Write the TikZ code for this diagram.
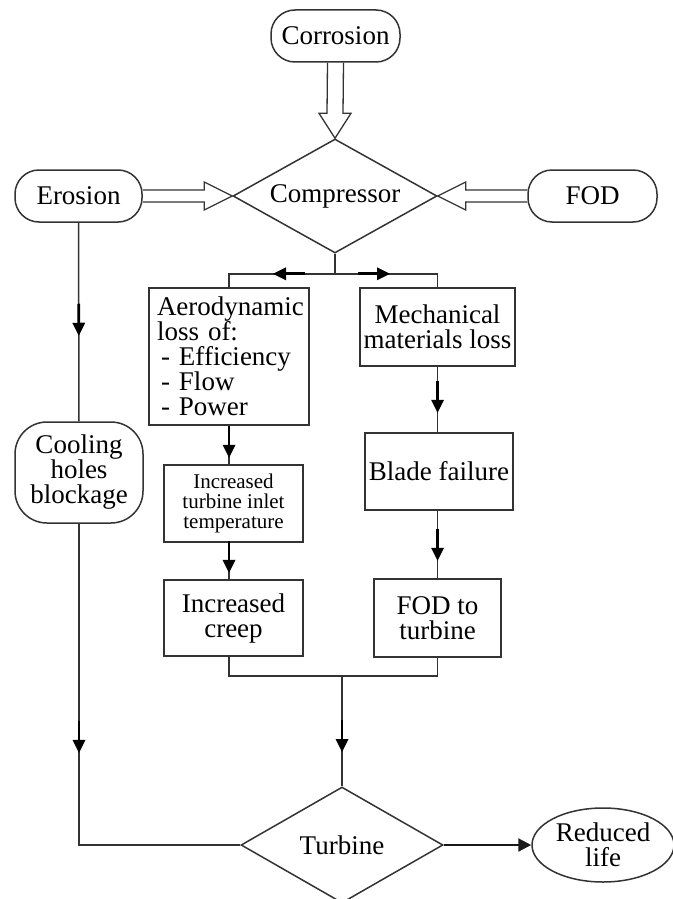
\documentclass[tikz,border=0pt]{standalone}
\usepackage{fontspec}
\setmainfont{Liberation Serif}
\usetikzlibrary{shapes.geometric,arrows.meta,decorations.markings,calc}
\begin{document}
\begin{tikzpicture}[x=1pt,y=-1pt,
  lc/.style={draw=black!80,line width=1.5pt},
  big/.style={font=\fontsize{27}{25}\selectfont},
  small/.style={font=\fontsize{21}{20}\selectfont},
  pill/.style={lc,big,rounded corners=24pt,inner sep=0pt,align=center},
  box/.style={lc,big,rectangle,inner sep=0pt,align=center},
  dia/.style={lc,big,diamond,inner sep=0pt},
  fat/.style={draw=black!80,line width=1.3pt,line join=miter},
  midarr/.style={decoration={markings,mark=at position #1 with {%
      \draw[black,line width=2.8pt] (-32pt,0pt) -- (-10pt,0pt);
      \fill[black] (0pt,0pt) -- (-13pt,6.5pt) -- (-13pt,-6.5pt) -- cycle;}},
    postaction={decorate}}]
\useasboundingbox (0,0) rectangle (672,899);

\node[pill,minimum width=129pt,minimum height=52pt] (corr) at (335.5,36) {Corrosion};
\node[pill,minimum width=127pt,minimum height=52pt] (ero) at (78.5,196) {Erosion};
\node[pill,minimum width=129pt,minimum height=52pt] (fod) at (592.5,196) {FOD};
\node[dia,minimum width=204pt,minimum height=114pt,aspect=1.79] (comp) at (335,196) {Compressor};

\node[box,minimum width=160pt,minimum height=137pt,text width=144pt,align=left] (aero) at (229,356.5)
  {Aerodynamic\\loss of:\\\hspace*{4pt}- Efficiency\\\hspace*{4pt}- Flow\\\hspace*{4pt}- Power};
\node[box,minimum width=155pt,minimum height=78pt] (mech) at (437.5,327) {Mechanical\\materials loss};
\node[box,small,minimum width=139pt,minimum height=77pt] (inlet) at (233.5,503.5) {Increased\\turbine inlet\\temperature};
\node[box,minimum width=148pt,minimum height=77pt] (blade) at (439,471.5) {Blade failure};
\node[box,minimum width=139pt,minimum height=76pt] (creep) at (233.5,618) {Increased\\creep};
\node[box,minimum width=127pt,minimum height=78pt] (fod2) at (437.5,618) {FOD to\\turbine};
\node[pill,rounded corners=32pt,minimum width=128pt,minimum height=101pt] (cool) at (79,472.5) {Cooling\\holes\\blockage};
\node[dia,minimum width=202pt,minimum height=116pt,aspect=1.74] (turb) at (342,845) {Turbine};
\node[lc,big,ellipse,minimum width=142pt,minimum height=74pt,inner sep=0pt,align=center] (life) at (603,845) {Reduced\\life};

% fat arrows
\draw[fat] ($(corr.south)+(-8,0)$) -- ($(comp.north)+(-8,-25)$) -- ($(comp.north)+(-16,-25)$) -- (comp.north)
  -- ($(comp.north)+(16,-25)$) -- ($(comp.north)+(8,-25)$) -- ($(corr.south)+(8,0)$);
\draw[fat] ($(ero.east)+(0,-6)$) -- ($(comp.west)+(-28,-6)$) -- ($(comp.west)+(-28,-14)$) -- (comp.west)
  -- ($(comp.west)+(-28,14)$) -- ($(comp.west)+(-28,6)$) -- ($(ero.east)+(0,6)$);
\draw[fat] ($(fod.west)+(0,-6)$) -- ($(comp.east)+(28,-6)$) -- ($(comp.east)+(28,-14)$) -- (comp.east)
  -- ($(comp.east)+(28,14)$) -- ($(comp.east)+(28,6)$) -- ($(fod.west)+(0,6)$);

% left branch
\draw[lc,midarr=113pt] (ero.south) -- (cool.north);
\draw[lc,midarr=229pt] (cool.south) |- (turb.west);

% split
\coordinate (split) at ($(comp.south)+(0,20)$);
\draw[lc] (comp.south) -- (split);
\draw[lc,midarr=62pt] (split) -| (aero.north);
\draw[lc,midarr=55pt] (split) -| (mech.north);

\draw[lc,midarr=32pt] (aero.south) -- (aero.south |- inlet.north);
\draw[lc,midarr=30pt] (aero.south |- inlet.south) -- (aero.south |- creep.north);
\draw[lc,midarr=46pt] (mech.south) -- (mech.south |- blade.north);
\draw[lc,midarr=50pt] (mech.south |- blade.south) -- (mech.south |- fod2.north);

% merge
\coordinate (merge) at (342,676);
\draw[lc] (aero.south |- creep.south) -- (aero.south |- merge) -- (mech.south |- merge) -- (mech.south |- fod2.south);
\draw[lc,midarr=76pt] (merge) -- (turb.north);

\draw[draw=black!90,line width=2.2pt,-{Triangle[width=13pt,length=13pt]}] (turb.east) -- (life.west);
\end{tikzpicture}
\end{document}
